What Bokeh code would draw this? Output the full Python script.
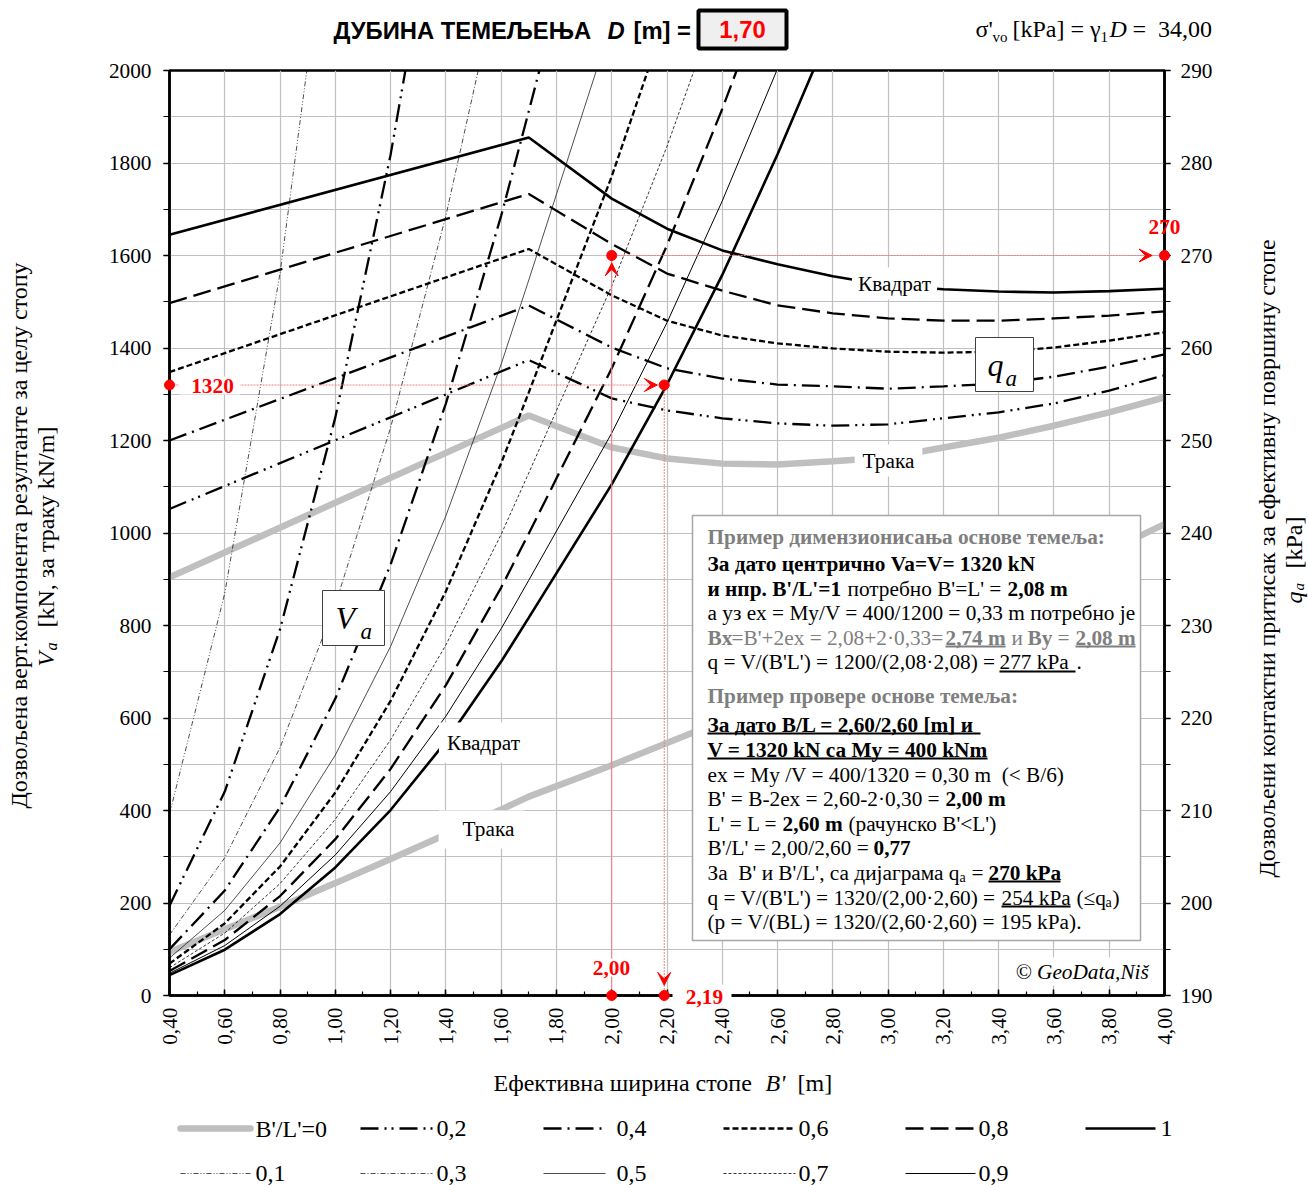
import math
from bokeh.plotting import figure
from bokeh.models import (Range1d, LinearAxis, SingleIntervalTicker, CustomJSTickFormatter,
                          Label, BoxAnnotation, Arrow, VeeHead)
from bokeh.core.properties import value
from bokeh.embed import file_html
from bokeh.resources import INLINE

# ---------------------------------------------------------------- data
# Allowable contact pressure q_a [kPa] versus effective width B' [m]
qa_b = [0.4, 1.7, 2.0, 2.2, 2.4, 2.6, 2.8, 3.0, 3.2, 3.4, 3.6, 3.8, 4.0]
qa_r00 = [235.2, 252.7, 249.25, 248.05, 247.5, 247.4, 247.75, 248.15, 249.25, 250.3, 251.6, 253.05, 254.65]
qa_r02 = [242.6, 258.7, 254.55, 253.25, 252.4, 251.85, 251.6, 251.75, 252.4, 253.05, 254.0, 255.4, 257.05]
qa_r04 = [250.0, 264.6, 260.05, 257.8, 256.7, 256.05, 255.85, 255.6, 255.85, 256.15, 256.9, 258.0, 259.3]
qa_r06 = [257.4, 270.7, 265.7, 262.95, 261.35, 260.5, 259.95, 259.6, 259.5, 259.6, 260.05, 260.8, 261.7]
qa_r08 = [264.85, 276.65, 271.25, 268.05, 266.2, 264.6, 263.75, 263.2, 262.95, 262.95, 263.2, 263.5, 263.95]
qa_r10 = [272.25, 282.75, 276.15, 272.9, 270.55, 269.05, 267.75, 266.75, 266.35, 266.1, 266.0, 266.15, 266.4]

# Allowable vertical resultant V_a [kN] (strip: kN/m) versus B' [m]
va_b = [0.4, 0.6, 0.8, 1.0, 1.2, 1.4, 1.6, 1.7, 2.0, 2.2, 2.4, 2.6, 2.8]
strip_b = [0.4, 0.6, 0.8, 1.0, 1.2, 1.4, 1.6, 1.7, 2.0, 2.2, 2.4, 2.6, 2.8, 3.0, 3.2, 3.4, 3.6, 3.8, 4.0]
va_r00 = [94, 143, 192, 243, 295, 348, 402, 430, 498, 546, 594, 643, 694, 744, 798, 851, 906, 962, 1019]
va_r01 = [392, 870, 1562, 2467]
va_r02 = [194, 441, 792, 1250, 1818, 2499]
va_r03 = [131, 298, 536, 845, 1228, 1686, 2223]
va_r04 = [100, 227, 407, 642, 932, 1280, 1686, 1912, 2601]
va_r05 = [81, 184, 330, 520, 755, 1037, 1365, 1547, 2103]
va_r06 = [69, 156, 279, 439, 637, 874, 1151, 1304, 1771, 2121]
va_r07 = [60, 135, 242, 381, 553, 758, 997, 1130, 1534, 1836, 2171]
va_r08 = [53, 120, 215, 338, 490, 671, 882, 999, 1356, 1622, 1917, 2236]
va_r09 = [48, 108, 193, 304, 441, 604, 793, 898, 1216, 1455, 1718, 2004, 2315]
va_r10 = [44, 99, 176, 277, 401, 549, 722, 817, 1105, 1321, 1558, 1819, 2099]

ratio_keys = ["0", "0.1", "0.2", "0.3", "0.4", "0.5", "0.6", "0.7", "0.8", "0.9", "1"]
ratio_labels = ["B'/L'=0", "0,1", "0,2", "0,3", "0,4", "0,5", "0,6", "0,7", "0,8", "0,9", "1"]

# worked example
ex_va = 1320      # kN
ex_b_sq = 2.19    # m, square footing for ex_va
ex_b = 2.00       # m, B' of the checked footing
ex_qa = 270       # kPa, q_a for B'=2,00 and B'/L'=0,77
depth_text = "1,70"
sigma_text = "34,00"


def dec(v):
    return f"{v:.2f}".replace(".", ",")

# ---------------------------------------------------------------- figure
FL, FB = 169, 995          # frame left / bottom in canvas pixels
SERIF = "Liberation Serif"
SANS = "Liberation Sans"
FS = 21.3                  # body text size, px
TS = 24                    # axis titles, legend and header size, px
NB = "\u00a0"

p = figure(width=1308, height=1185, x_range=Range1d(0.4, 4.0), y_range=Range1d(0, 2000),
           output_backend="svg", toolbar_location=None,
           min_border_left=169, min_border_right=144, min_border_top=70, min_border_bottom=190)
p.extra_y_ranges = {"qa": Range1d(190, 290)}
p.background_fill_color = "white"
p.border_fill_color = "white"
p.outline_line_color = "black"
p.outline_line_width = 2.5

xax = p.xaxis[0]
xax.ticker = SingleIntervalTicker(interval=0.2, num_minor_ticks=2)
xax.formatter = CustomJSTickFormatter(code="return tick.toFixed(2).replace('.', ',')")
xax.major_label_orientation = math.pi / 2
xax.major_tick_in, xax.major_tick_out = 6, 0
xax.minor_tick_in, xax.minor_tick_out = 4, 0
xax.major_label_standoff = 12

yax = p.yaxis[0]
yax.ticker = SingleIntervalTicker(interval=200, num_minor_ticks=2)
yax.major_tick_in, yax.major_tick_out = 0, 6
yax.minor_tick_in, yax.minor_tick_out = 0, 6
yax.major_label_standoff = 12

rax = LinearAxis(y_range_name="qa", ticker=SingleIntervalTicker(interval=10, num_minor_ticks=2))
rax.major_tick_in, rax.major_tick_out = 0, 6
rax.minor_tick_in, rax.minor_tick_out = 0, 6
rax.major_label_standoff = 10
p.add_layout(rax, "right")

for ax in (xax, yax, rax):
    ax.axis_line_width = 2.5
    ax.axis_line_color = "black"
    ax.major_tick_line_width = 1.5
    ax.minor_tick_line_width = 1.2
    ax.major_label_text_font = SERIF
    ax.major_label_text_font_size = f"{FS}px"
    ax.major_label_text_color = "black"

p.xgrid.grid_line_color = "#c0c0c0"
p.xgrid.grid_line_width = 1.2
p.ygrid.grid_line_color = "#c0c0c0"
p.ygrid.grid_line_width = 1.2
p.ygrid.minor_grid_line_color = "#c0c0c0"
p.ygrid.minor_grid_line_width = 1.2

# ---------------------------------------------------------------- curve styles
styles = {
    "0":   dict(line_color="#bfbfbf", line_width=6.5, line_cap="round"),
    "0.1": dict(line_color="black", line_width=0.7, line_dash="5 2 1 2 1 2"),
    "0.2": dict(line_color="black", line_width=2.3, line_dash="18 6 2 5 2 6"),
    "0.3": dict(line_color="black", line_width=0.7, line_dash="5 2 1 2"),
    "0.4": dict(line_color="black", line_width=2.3, line_dash="18 6 2 6"),
    "0.5": dict(line_color="#222222", line_width=0.8),
    "0.6": dict(line_color="black", line_width=2.3, line_dash="6 3"),
    "0.7": dict(line_color="black", line_width=0.8, line_dash="3 2"),
    "0.8": dict(line_color="black", line_width=2.3, line_dash="18 7"),
    "0.9": dict(line_color="black", line_width=1.0),
    "1":   dict(line_color="black", line_width=2.6),
}

# q_a curves on the right-hand axis
for key, vals in [("0", qa_r00), ("0.2", qa_r02), ("0.4", qa_r04),
                  ("0.6", qa_r06), ("0.8", qa_r08), ("1", qa_r10)]:
    p.line(qa_b, vals, y_range_name="qa", **styles[key])

# V_a curves on the left-hand axis
p.line(strip_b, va_r00, **styles["0"])
for key, vals in [("0.1", va_r01), ("0.2", va_r02), ("0.3", va_r03), ("0.4", va_r04),
                  ("0.5", va_r05), ("0.6", va_r06), ("0.7", va_r07), ("0.8", va_r08),
                  ("0.9", va_r09), ("1", va_r10)]:
    p.line(va_b[:len(vals)], vals, **styles[key])

# ---------------------------------------------------------------- helpers
def dx(X):
    return 0.4 + (X - FL) * 3.6 / 995.0


def dy(Y):
    return (FB - Y) * 2000.0 / 925.0


def put(X, Y, text, size=FS, style="normal", color="black", align="left", font=SERIF,
        bg=None, pad=None):
    """Text inside the plotting frame."""
    lab = Label(x=X - FL, y=FB - Y, x_units="screen", y_units="screen", text=text,
                text_font=font, text_font_size=f"{size}px", text_font_style=style,
                text_color=color, text_align=align, text_baseline="middle")
    if bg is not None:
        lab.background_fill_color = bg
        lab.background_fill_alpha = 1.0
    if pad is not None:
        lab.padding = pad
    p.add_layout(lab)


def gtext(X, Y, text, size=TS, style="normal", color="black", align="left", font=SERIF, angle=0.0):
    """Text anywhere on the canvas (drawn on the overlay level)."""
    p.text(x=[dx(X)], y=[dy(Y)], text=[text], text_font=value(font),
           text_font_size=value(f"{size}px"), text_font_style=value(style),
           text_color=color, text_align=value(align), text_baseline=value("middle"),
           angle=angle, level="overlay")


def gbox(X0, Y0, X1, Y1, fill="white", line=None, lw=1.0):
    p.quad(left=[dx(X0)], right=[dx(X1)], top=[dy(Y0)], bottom=[dy(Y1)],
           fill_color=fill, line_color=line, line_width=lw, level="overlay")


def rect(X0, Y0, X1, Y1, fill="white", line="#808080", lw=1.0):
    p.add_layout(BoxAnnotation(left=dx(X0), right=dx(X1), top=dy(Y0), bottom=dy(Y1),
                               fill_color=fill, fill_alpha=1.0,
                               line_color=line, line_width=lw, line_alpha=1.0 if line else 0.0))


def pads(l, r, t, b):
    return dict(left=l, right=r, top=t, bottom=b)

# ---------------------------------------------------------------- worked example marks
red = "#ff0000"
pink = "#f08080"
p.line([0.4, ex_b_sq], [ex_va, ex_va], line_color=pink, line_width=1, line_dash="2 1")
p.line([ex_b_sq, ex_b_sq], [ex_va, 0], line_color=pink, line_width=1, line_dash="2 1")
p.line([ex_b, ex_b], [190, ex_qa], y_range_name="qa", line_color=pink, line_width=1)
p.line([ex_b, 4.0], [ex_qa, ex_qa], y_range_name="qa", line_color=pink, line_width=1, line_dash="2 1")

head = dict(size=13, fill_color=red, line_color=red, line_width=1)
p.add_layout(Arrow(x_start=2.0, y_start=ex_va, x_end=ex_b_sq - 0.025, y_end=ex_va,
                   line_alpha=0, end=VeeHead(**head)))
p.add_layout(Arrow(x_start=ex_b_sq, y_start=120, x_end=ex_b_sq, y_end=22,
                   line_alpha=0, end=VeeHead(**head)))
p.add_layout(Arrow(x_start=ex_b, y_start=ex_qa - 6, x_end=ex_b, y_end=ex_qa - 0.8,
                   y_range_name="qa", line_alpha=0, end=VeeHead(**head)))
p.add_layout(Arrow(x_start=3.8, y_start=ex_qa, x_end=3.955, y_end=ex_qa,
                   y_range_name="qa", line_alpha=0, end=VeeHead(**head)))

# ---------------------------------------------------------------- boxes and labels in the plot
# V_a and q_a tags
rect(322, 590, 384, 645, line="#404040")
put(335, 617, "V", size=32, style="italic")
put(360, 631, "a", size=23, style="italic")
rect(975, 337, 1033, 391, line="#404040")
put(987, 364, "q", size=32, style="italic")
put(1005, 378, "a", size=23, style="italic")

# curve family names
put(894, 283, "Квадрат", align="center", bg="white", pad=pads(6, 6, 4, 4))
put(888, 460, "Трака", align="center", bg="white", pad=pads(8, 8, 4, 4))
put(481, 742, "Квадрат", align="center", bg="white", pad=pads(8, 4, 8, 8))
put(481, 829, "Трака", align="center", bg="white", pad=pads(24, 10, 6, 8))

# explanation panel
rect(692, 515, 1140, 940, line="#a6a6a6", lw=1.5)
gray = "#7f7f7f"
put(707, 536, "Пример димензионисања основе темеља:", style="bold", color=gray)
put(707, 563, f"За дато центрично Va=V= {ex_va} kN", style="bold")
put(707, 588, "и нпр. B'/L'=1", style="bold")
put(847, 588, "потребно B'=L' =")
put(1007, 588, "2,08 m", style="bold")
put(707, 612, "а уз ex = My/V = 400/1200 = 0,33 m потребно је")
put(707, 637, "Bx", style="bold", color=gray)
put(731, 637, "=B'+2ex = 2,08+2·0,33=", color=gray)
put(945, 637, "2,74 m", style="bold", color=gray)
put(1011, 637, "и", color=gray)
put(1027, 637, "By", style="bold", color=gray)
put(1057, 637, "=", color=gray)
put(1075, 637, "2,08 m", style="bold", color=gray)
rect(945, 645, 1005, 647, fill=gray, line=None)
rect(1075, 645, 1135, 647, fill=gray, line=None)
put(707, 661, "q = V/(B'L') = 1200/(2,08·2,08) =")
put(999, 661, "277 kPa")
put(1076, 661, ".")
rect(999, 670, 1075, 672, fill="black", line=None)
put(707, 695, "Пример провере основе темеља:", style="bold", color=gray)
put(707, 724, "За дато B/L = 2,60/2,60 [m] и", style="bold")
rect(707, 732, 980, 734, fill="black", line=None)
put(707, 749, f"V = {ex_va} kN са My = 400 kNm", style="bold")
rect(707, 757, 987, 759, fill="black", line=None)
put(707, 774, f"ex = My /V = 400/1320 = 0,30 m{NB} (< B/6)")
put(707, 798, "B' = B-2ex = 2,60-2·0,30 =")
put(945, 798, f"{dec(ex_b)} m", style="bold")
put(707, 823, "L' = L =")
put(782, 823, "2,60 m", style="bold")
put(848, 823, "(рачунско B'<L')")
put(707, 847, f"B'/L' = {dec(ex_b)}/2,60 =")
put(873, 847, "0,77", style="bold")
put(707, 872, f"За{NB} B' и B'/L', са дијаграма q")
put(959, 877, "a", size=14)
put(971, 872, "=")
put(988, 872, f"{ex_qa} kPa", style="bold")
rect(988, 880, 1060, 882, fill="black", line=None)
put(707, 897, f"q = V/(B'L') = {ex_va}/({dec(ex_b)}·2,60) =")
put(1001, 897, "254 kPa")
rect(1001, 905, 1070, 907, fill="black", line=None)
put(1076, 897, "(≤q")
put(1105, 902, "a", size=14)
put(1112, 897, ")")
put(707, 921, f"(p = V/(BL) = {ex_va}/(2,60·2,60) = 195 kPa).")
put(1013, 971, "© GeoData,Niš", style="italic", bg="white", pad=pads(2, 2, 2, 2))

# red value tags
put(209, 385, f"{ex_va}", style="bold", color=red, align="center", bg="white", pad=pads(12, 6, 2, 2))
put(611, 967, dec(ex_b), style="bold", color=red, align="center", bg="white", pad=pads(4, 4, 2, 2))
gbox(672, 984, 731, 1008)
gtext(704, 996, dec(ex_b_sq), size=FS, style="bold", color=red, align="center")
gtext(1164, 226, f"{ex_qa}", size=FS, style="bold", color=red, align="center")

# red dots
p.scatter([0.4, ex_b_sq, ex_b_sq], [ex_va, ex_va, 0], size=10, color=red, level="overlay")
p.scatter([ex_b, ex_b, 4.0], [190, ex_qa, ex_qa], y_range_name="qa", size=10, color=red,
          level="overlay")

# ---------------------------------------------------------------- titles
gtext(333, 30, "ДУБИНА ТЕМЕЉЕЊА", font=SANS, style="bold", size=23.8)
gtext(607, 30, "D", font=SANS, style="bold italic", size=23.8)
gtext(633, 30, "[m] =", font=SANS, style="bold", size=23.8)
gbox(698, 10, 786, 48, fill="#efefef", line="black", lw=4)
gtext(742, 29, depth_text, font=SANS, style="bold", size=23.8, color=red, align="center")

gtext(975, 28, "σ'")
gtext(992, 36, "vo", size=15)
gtext(1012, 28, "[kPa] = γ")
gtext(1100, 36, "1", size=15)
gtext(1109, 28, "D", style="italic")
gtext(1132, 28, f"={NB} {sigma_text}")

# axis titles
gtext(18, 535, "Дозвољена верт.компонента резултанте за целу стопу", align="center", angle=math.pi / 2)
gtext(45, 666, "V", style="italic", angle=math.pi / 2)
gtext(51, 650, "a", size=16, style="italic", angle=math.pi / 2)
gtext(45, 627, "[kN, за траку kN/m]", angle=math.pi / 2)

gtext(1266, 558, "Дозвољени контактни притисак за ефективну површину стопе", align="center",
      angle=math.pi / 2)
gtext(1293, 603, "q", style="italic", angle=math.pi / 2)
gtext(1298, 590, "a", size=15, style="italic", angle=math.pi / 2)
gtext(1293, 568, "[kPa]", angle=math.pi / 2)

gtext(493, 1082, "Ефективна ширина стопе")
gtext(765, 1082, "B'", style="italic")
gtext(797, 1082, "[m]")

# ---------------------------------------------------------------- legend
# (sample start, sample end, label x) per column; rows for even / odd ratios
legend_cols = [(180, 250, 255), (360, 432, 436), (543, 605, 616),
               (723, 795, 798), (905, 975, 978), (1085, 1155, 1160)]
legend_rows = [1128, 1173]
for i, key in enumerate(ratio_keys):
    col, row = i // 2, i % 2
    x0, x1, xl = legend_cols[col]
    yr = legend_rows[row]
    p.line([dx(x0), dx(x1)], [dy(yr), dy(yr)], level="overlay", **styles[key])
    gtext(xl, yr, ratio_labels[i])

open("out.html", "w").write(file_html(p, INLINE))
